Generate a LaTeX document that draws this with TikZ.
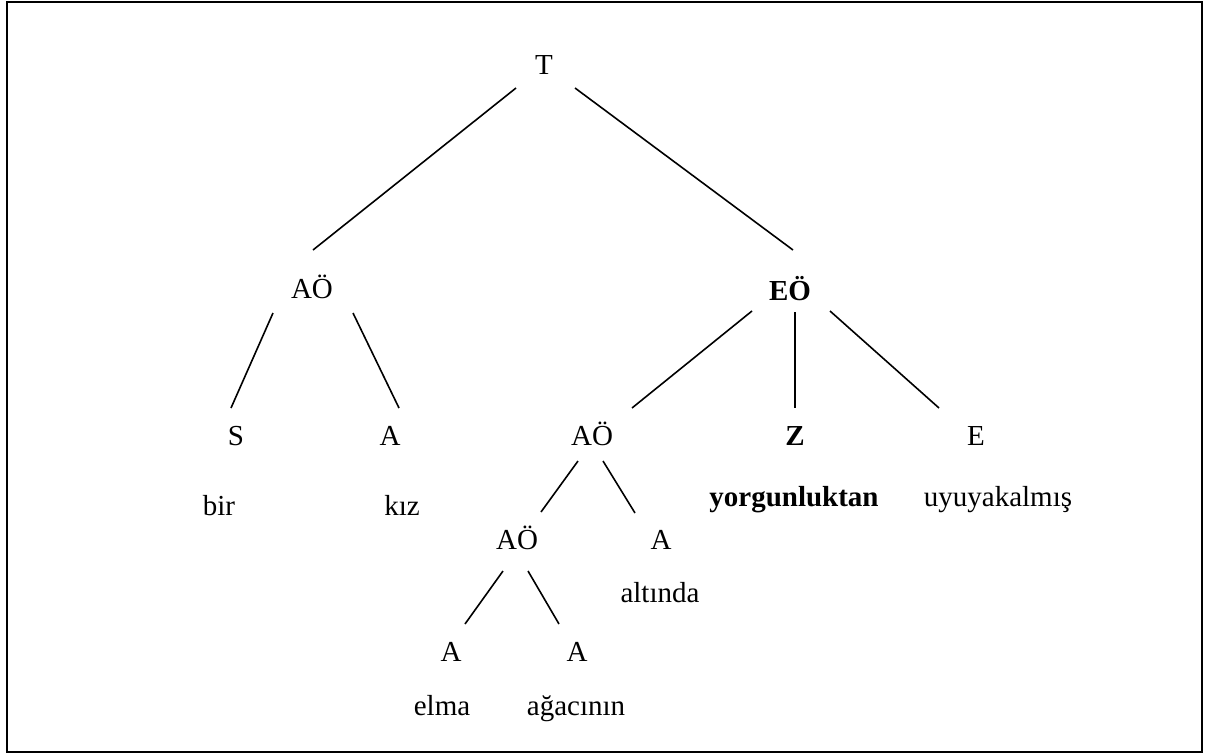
\documentclass[tikz,border=0pt]{standalone}
\usepackage{fontspec}
\setmainfont{Liberation Serif}
\tikzset{
  lbl/.style={font=\fontsize{29}{35}\selectfont, inner sep=0pt, anchor=base},
  blbl/.style={lbl, font=\fontsize{29}{35}\selectfont\bfseries},
  edge/.style={line width=1.6pt, black}
}
\begin{document}
\begin{tikzpicture}[x=1pt,y=-1pt]
\useasboundingbox (0,0) rectangle (1205,753);
\draw[line width=2.4pt] (7,2.2) rectangle (1202,751.8);
% nodes
\node[lbl]  (t)    at (544,74)  {T};
\node[lbl]  (aol)  at (312,298) {AÖ};
\node[blbl] (eo)   at (790,300) {EÖ};
\node[lbl]  (s)    at (236,445) {S};
\node[lbl]  (a1)   at (390,445) {A};
\node[lbl]  (aom)  at (592,445) {AÖ};
\node[blbl] (z)    at (795,445) {Z};
\node[lbl]  (e)    at (976,445) {E};
\node[lbl]  (bir)  at (219,515) {bir};
\node[lbl]  (kiz)  at (402,515) {kız};
\node[blbl] (yorg) at (794,506) {yorgunluktan};
\node[lbl]  (uyu)  at (998,506) {uyuyakalmış};
\node[lbl]  (aol2) at (517,549) {AÖ};
\node[lbl]  (a2)   at (661,549) {A};
\node[lbl]  (alt)  at (660,602) {altında};
\node[lbl]  (a3)   at (451,661) {A};
\node[lbl]  (a4)   at (577,661) {A};
\node[lbl]  (elma) at (442,715) {elma};
\node[lbl]  (agac) at (576,715) {ağacının};
% edges
\draw[edge] ([shift={(-28,14)}]t.base) -- ([shift={(1,-48)}]aol.base);
\draw[edge] ([shift={(31,14)}]t.base) -- ([shift={(3,-50)}]eo.base);
\draw[edge] ([shift={(-39,15)}]aol.base) -- ([shift={(-5,-37)}]s.base);
\draw[edge] ([shift={(41,15)}]aol.base) -- ([shift={(9,-37)}]a1.base);
\draw[edge] ([shift={(-38,11)}]eo.base) -- ([shift={(40,-37)}]aom.base);
\draw[edge] ([shift={(5,12)}]eo.base) -- ([shift={(0,-37)}]z.base);
\draw[edge] ([shift={(40,11)}]eo.base) -- ([shift={(-37,-37)}]e.base);
\draw[edge] ([shift={(-14,16)}]aom.base) -- ([shift={(24,-37)}]aol2.base);
\draw[edge] ([shift={(11,16)}]aom.base) -- ([shift={(-26,-36)}]a2.base);
\draw[edge] ([shift={(-14,22)}]aol2.base) -- ([shift={(14,-37)}]a3.base);
\draw[edge] ([shift={(11,22)}]aol2.base) -- ([shift={(-18,-37)}]a4.base);
\end{tikzpicture}
\end{document}
